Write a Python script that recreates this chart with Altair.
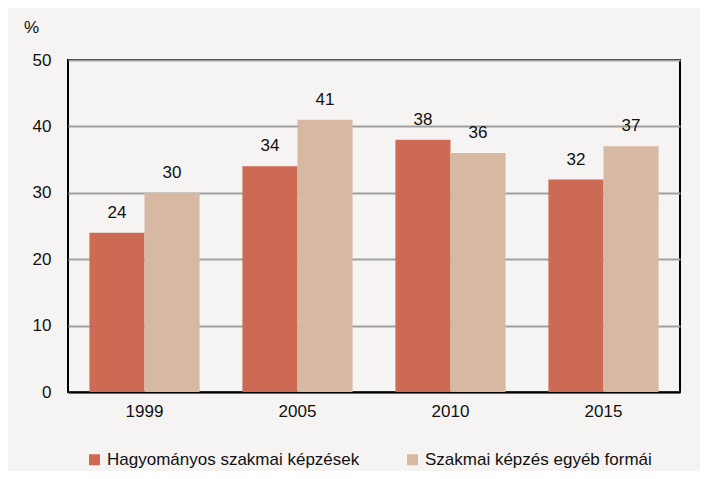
import altair as alt
import pandas as pd

years = ["1999", "2005", "2010", "2015"]
series = ["Hagyományos szakmai képzések", "Szakmai képzés egyéb formái"]
hagyomanyos = [24, 34, 38, 32]
egyeb = [30, 41, 36, 37]

rows = []
for i, y in enumerate(years):
    rows.append({"year": y, "series": series[0], "value": hagyomanyos[i]})
    rows.append({"year": y, "series": series[1], "value": egyeb[i]})
df = pd.DataFrame(rows)

FONT = "Liberation Sans"
FS = 17
colors = ["#CC6A54", "#D7B8A2"]

x = alt.X("year:N", sort=years, title=None,
          scale=alt.Scale(paddingInner=0.28, paddingOuter=0.14),
          axis=alt.Axis(labelAngle=0, ticks=False, labelPadding=11, domainColor="black",
                        domainWidth=2, labelFontSize=FS, labelFont=FONT, labelColor="#111"))
xoff = alt.XOffset("series:N", sort=series)
y = alt.Y("value:Q", title="%",
          scale=alt.Scale(domain=[0, 50]),
          axis=alt.Axis(values=[0, 10, 20, 30, 40, 50], ticks=False, labelPadding=17,
                        domain=False, grid=True, gridColor="#a0a0a0", gridWidth=2,
                        labelFontSize=FS, labelFont=FONT, labelColor="#111",
                        titleAngle=0, titleX=-37, titleY=-24, titleAlign="center",
                        titleFontSize=FS, titleFont=FONT, titleFontWeight="normal",
                        titleColor="#111"))

bars = alt.Chart(df).mark_bar().encode(
    x=x, xOffset=xoff, y=y,
    color=alt.Color("series:N", sort=series,
                    scale=alt.Scale(domain=series, range=colors),
                    legend=alt.Legend(title=None, orient="none", legendX=18, legendY=391,
                                      direction="horizontal", symbolType="square",
                                      symbolSize=121, symbolStrokeWidth=0,
                                      labelFontSize=FS, labelFont=FONT, labelColor="#111",
                                      columnPadding=44, labelLimit=400, symbolOpacity=1))
)

labels = alt.Chart(df).mark_text(baseline="bottom", dy=-11, fontSize=FS, font=FONT,
                                 color="#111").encode(
    x=x, xOffset=xoff, y=y, text=alt.Text("value:Q")
)

chart = alt.layer(bars, labels).properties(
    width=612, height=332,
    autosize=alt.AutoSizeParams(type="none"),
    padding={"left": 60, "top": 52, "right": 20, "bottom": 79},
    background="#F5F4F2",
).configure_view(stroke="black", strokeWidth=2, fill="#F5F4F2")

chart.save("out.html", embed_options={"renderer": "svg", "actions": False})
